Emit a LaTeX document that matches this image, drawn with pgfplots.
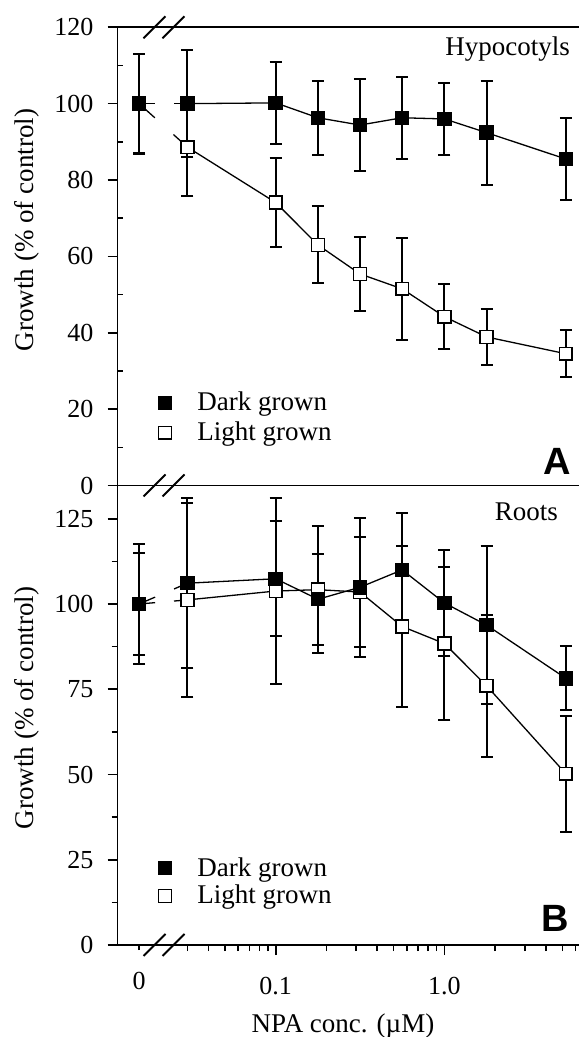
\documentclass[border=0pt]{standalone}
\usepackage{fontspec}
\setmainfont{Liberation Serif}
\setsansfont{Liberation Sans}
\usepackage{pgfplots}
\pgfplotsset{compat=1.18}

% 1 px of the reference = 0.5pt
\pgfplotsset{
  darkser/.style={black, line width=0.65pt, mark=square*, mark size=3.3pt,
    mark options={solid, fill=black},
    error bars/y dir=both, error bars/y explicit,
    error bars/error bar style={line width=1pt, solid},
    error bars/error mark options={rotate=90, line width=1pt, mark size=3pt}},
  lightser/.style={black, line width=0.65pt, mark=square*, mark size=3.2pt,
    mark options={solid, fill=white, line width=0.8pt},
    error bars/y dir=both, error bars/y explicit,
    error bars/error bar style={line width=1pt, solid},
    error bars/error mark options={rotate=90, line width=1pt, mark size=3pt}},
  segline/.style={black, line width=0.65pt, no marks, forget plot},
}

\begin{document}
\begin{tikzpicture}
\useasboundingbox (0,0) rectangle (290pt,518.5pt);

% ---- A: hypocotyls
\begin{axis}[
    scale only axis, width=230.75pt, height=229.1pt,
    at={(58.75pt,275.75pt)}, anchor=south west,
    xmode=log, xmin=0.01154, xmax=6.28,
    ymin=0, ymax=120, ytick={0,20,...,120}, minor y tick num=1,
    axis x line*=box, axis y line*=left,
    axis line style={-, line width=0.85pt},
    tick align=outside, tick style={black, line width=0.8pt},
    major tick length=5pt, minor tick length=3pt,
    minor tick style={xshift=3pt},
    xmajorticks=false, xminorticks=false,
    ticklabel style={font=\fontsize{13}{13}\selectfont},
    /pgf/number format/assume math mode=true,
    yticklabel style={xshift=-3.5pt},
    clip=false,
    legend style={draw=none, fill=none, font=\fontsize{13.5}{14}\selectfont,
      anchor=north west, row sep=0pt, at={(0.075,0.222)},
      /tikz/every odd column/.append style={column sep=11pt}},
    legend cell align=left]
  \addplot[segline, dash pattern=on 10.6pt off 12.5pt on 14pt] coordinates {(0.0155,100) (0.03,88.6)};
  \addplot[segline, dash pattern=on 8pt off 9.5pt on 12pt] coordinates {(0.0155,100) (0.03,100)};
  \addplot[lightser, only marks, forget plot] coordinates {(0.0155,100) +- (0,13)};
  \addplot[lightser, forget plot] coordinates {
    (0.03,88.6) +- (0,12.7) (0.1,74.1) +- (0,11.6) (0.178,63.0) +- (0,10.1)
    (0.316,55.4) +- (0,9.6) (0.562,51.5) +- (0,13.4) (1.0,44.2) +- (0,8.5)
    (1.78,38.9) +- (0,7.3) (5.25,34.5) +- (0,6.1)};
  \addplot[darkser, only marks, forget plot] coordinates {(0.0155,100) +- (0,13.1)};
  \addplot[darkser, forget plot] coordinates {
    (0.03,100) +- (0,14) (0.1,100.2) +- (0,10.7) (0.178,96.3) +- (0,9.7)
    (0.316,94.4) +- (0,12) (0.562,96.3) +- (0,10.8) (1.0,96.0) +- (0,9.4)
    (1.78,92.4) +- (0,13.6) (5.25,85.5) +- (0,10.7)};
  \addlegendimage{only marks, mark=square*, mark size=3.2pt, fill=black}
  \addlegendentry{Dark grown}
  \addlegendimage{only marks, mark=square*, mark size=3.2pt, fill=white, line width=0.8pt}
  \addlegendentry{Light grown}
\end{axis}

% ---- B: roots
\begin{axis}[
    scale only axis, width=230.75pt, height=229.75pt,
    at={(58.75pt,46pt)}, anchor=south west,
    xmode=log, xmin=0.01154, xmax=6.28,
    ymin=0, ymax=134.75, ytick={0,25,...,125}, minor y tick num=1,
    axis x line*=box, axis y line*=left,
    axis line style={-, line width=0.85pt},
    tick align=outside, tick style={black, line width=0.8pt},
    major tick length=5pt, minor tick length=3pt,
    xtick pos=left, xtick={0.1,1}, xticklabels={0.1,1.0},
    minor xtick={0.03,0.04,0.05,0.06,0.07,0.08,0.09,0.2,0.3,0.4,0.5,0.6,0.7,0.8,0.9,2,3,4,5,6},
    extra x ticks={0.0155}, extra x tick labels={0},
    extra x tick style={major tick length=2.5pt},
    ticklabel style={font=\fontsize{13}{13}\selectfont},
    /pgf/number format/assume math mode=true,
    yticklabel style={xshift=-3.5pt},
    xticklabel style={yshift=-7.5pt},
    clip=false,
    legend style={draw=none, fill=none, font=\fontsize{13.5}{14}\selectfont,
      anchor=north west, row sep=-1pt, at={(0.075,0.209)},
      /tikz/every odd column/.append style={column sep=11pt}},
    legend cell align=left]
  \addplot[segline, dash pattern=on 8pt off 9.5pt on 12pt] coordinates {(0.0155,100) (0.03,101.2)};
  \addplot[segline, dash pattern=on 8.7pt off 10.3pt on 12pt] coordinates {(0.0155,100) (0.03,106.1)};
  \addplot[lightser, only marks, forget plot] coordinates {(0.0155,100) +- (0,15)};
  \addplot[lightser, forget plot] coordinates {
    (0.03,101.2) +- (0,28.5) (0.1,103.8) +- (0,27.4) (0.178,104.2) +- (0,18.7)
    (0.316,103.5) +- (0,16.1) (0.562,93.4) +- (0,23.6) (1.0,88.4) +- (0,22.4)
    (1.78,76.0) +- (0,20.8) (5.25,50.2) +- (0,17)};
  \addplot[darkser, only marks, forget plot] coordinates {(0.0155,100) +- (0,17.5)};
  \addplot[darkser, forget plot] coordinates {
    (0.03,106.1) +- (0,25) (0.1,107.4) +- (0,16.8) (0.178,101.4) +- (0,13.3)
    (0.316,104.9) +- (0,20.4) (0.562,110.0) +- (0,16.6) (1.0,100.3) +- (0,15.6)
    (1.78,93.8) +- (0,23.2) (5.25,78.2) +- (0,9.4)};
  \addlegendimage{only marks, mark=square*, mark size=3.2pt, fill=black}
  \addlegendentry{Dark grown}
  \addlegendimage{only marks, mark=square*, mark size=3.2pt, fill=white, line width=0.8pt}
  \addlegendentry{Light grown}
\end{axis}

% axis breaks
\foreach \yy in {504.85pt,275.75pt,46pt} {
  \foreach \xx in {77.25pt,86.75pt} {
    \draw[line width=1pt] ([xshift=-5.5pt,yshift=-5.5pt]\xx,\yy) -- ([xshift=5.5pt,yshift=5.5pt]\xx,\yy);
  }
}

% texts
\node[anchor=base east, font=\fontsize{13.5}{14}\selectfont] at (288.5pt,490.5pt) {Hypocotyls};
\node[anchor=base east, font=\fontsize{13.5}{14}\selectfont] at (282.5pt,258pt) {Roots};
\node[anchor=base, font=\fontsize{19}{19}\sffamily\bfseries] at (278.65pt,281pt) {A};
\node[anchor=base, font=\fontsize{19}{19}\sffamily\bfseries] at (277.5pt,52.65pt) {B};
\node[rotate=90, font=\fontsize{13.5}{14}\selectfont] at (13.5pt,403.5pt) {Growth (\% of control)};
\node[rotate=90, font=\fontsize{13.5}{14}\selectfont] at (13.5pt,164.5pt) {Growth (\% of control)};
\node[anchor=base, font=\fontsize{13.5}{14}\selectfont] at (171.5pt,2pt) {NPA conc. (µM)};
\end{tikzpicture}
\end{document}
